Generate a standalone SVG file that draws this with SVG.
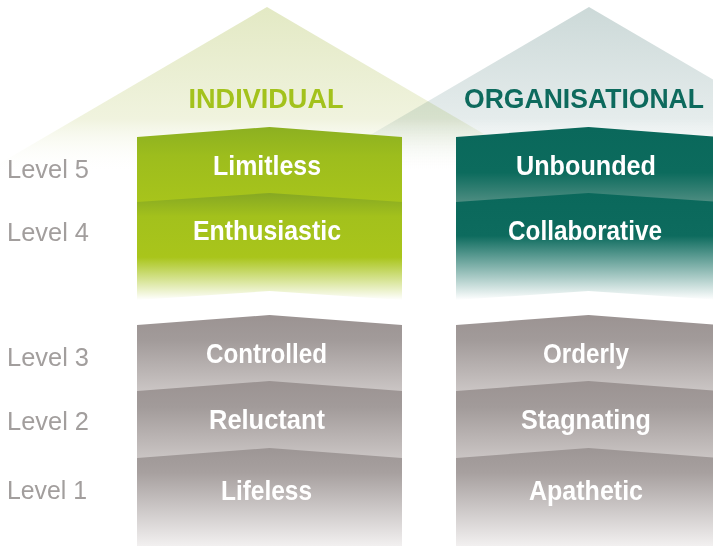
<svg xmlns="http://www.w3.org/2000/svg" width="713" height="549" viewBox="0 0 713 549">
<defs>
<linearGradient id="triG" x1="0" y1="0" x2="0" y2="1">
<stop offset="0" stop-color="#e3e9c4"/>
<stop offset="0.55" stop-color="#f0f3de"/>
<stop offset="0.82" stop-color="#ffffff" stop-opacity="0"/>
</linearGradient>
<linearGradient id="triT" x1="0" y1="0" x2="0" y2="1">
<stop offset="0" stop-color="#ccd9d8"/>
<stop offset="0.55" stop-color="#e5ecec"/>
<stop offset="0.82" stop-color="#ffffff" stop-opacity="0"/>
</linearGradient>
<linearGradient id="g5" x1="0" y1="0" x2="0" y2="1">
<stop offset="0" stop-color="#8cb021"/>
<stop offset="0.35" stop-color="#9dbd1d"/>
<stop offset="1" stop-color="#a9c51b"/>
</linearGradient>
<linearGradient id="g4" x1="0" y1="0" x2="0" y2="1">
<stop offset="0" stop-color="#86a823"/>
<stop offset="0.22" stop-color="#a3c11c"/>
<stop offset="0.6" stop-color="#a9c51b"/>
<stop offset="1" stop-color="#ffffff"/>
</linearGradient>
<linearGradient id="t5" x1="0" y1="0" x2="0" y2="1">
<stop offset="0" stop-color="#0a685b"/>
<stop offset="0.55" stop-color="#0c6b5d"/>
<stop offset="1" stop-color="#5f968b"/>
</linearGradient>
<linearGradient id="t4" x1="0" y1="0" x2="0" y2="1">
<stop offset="0" stop-color="#0a685b"/>
<stop offset="0.4" stop-color="#0d6b5e"/>
<stop offset="1" stop-color="#ffffff"/>
</linearGradient>
<linearGradient id="gr" x1="0" y1="0" x2="0" y2="1">
<stop offset="0" stop-color="#9b9392"/>
<stop offset="0.3" stop-color="#a29b9a"/>
<stop offset="1" stop-color="#d2cdcc"/>
</linearGradient>
<linearGradient id="gr1" x1="0" y1="0" x2="0" y2="1">
<stop offset="0" stop-color="#9d9695"/>
<stop offset="0.25" stop-color="#a7a09f"/>
<stop offset="1" stop-color="#f2f0f0"/>
</linearGradient>
</defs>
<style>
.box{font-family:"Liberation Sans Narrow","Liberation Sans",Arial,sans-serif;font-weight:bold;font-size:28px;fill:#ffffff;text-anchor:middle}
.lvl{font-family:"Liberation Sans Narrow","Liberation Sans",Arial,sans-serif;font-size:25px;fill:#a29e9d}
.hd{font-family:"Liberation Sans Narrow","Liberation Sans",Arial,sans-serif;font-weight:bold;font-size:28px;text-anchor:middle}
</style>
<rect width="713" height="549" fill="#ffffff"/>
<g id="backdrop">
<polygon points="267,7 -80,210 614,210" fill="url(#triG)"/>
<polygon points="589,7 242,210 936,210" fill="url(#triT)" style="mix-blend-mode:multiply"/>
</g>
<g id="header-individual"><text class="hd" x="266" y="108" fill="#a3c21c" textLength="155" lengthAdjust="spacingAndGlyphs">INDIVIDUAL</text></g>
<g id="header-organisational"><text class="hd" x="584" y="108" fill="#0d6a5d" font-size="27" textLength="240" lengthAdjust="spacingAndGlyphs">ORGANISATIONAL</text></g>
<g id="levels">
<text class="lvl" x="7" y="178" textLength="82" lengthAdjust="spacingAndGlyphs">Level 5</text>
<text class="lvl" x="7" y="241" textLength="82" lengthAdjust="spacingAndGlyphs">Level 4</text>
<text class="lvl" x="7" y="366" textLength="82" lengthAdjust="spacingAndGlyphs">Level 3</text>
<text class="lvl" x="7" y="430" textLength="82" lengthAdjust="spacingAndGlyphs">Level 2</text>
<text class="lvl" x="7" y="499" textLength="80" lengthAdjust="spacingAndGlyphs">Level 1</text>
</g>
<g id="limitless">
<path d="M137,137 L269.5,127 L402,137 L402,210 L137,210 Z" fill="url(#g5)"/>
<text class="box" x="267" y="175" textLength="108" lengthAdjust="spacingAndGlyphs">Limitless</text>
</g>
<g id="enthusiastic">
<path d="M137,202 L269.5,193 L402,202 L402,300 L269.5,291 L137,300 Z" fill="url(#g4)"/>
<text class="box" x="267" y="240" textLength="148" lengthAdjust="spacingAndGlyphs">Enthusiastic</text>
</g>
<g id="unbounded">
<path d="M456,137 L588.5,127 L721,137 L721,210 L456,210 Z" fill="url(#t5)"/>
<text class="box" x="586" y="175" textLength="140" lengthAdjust="spacingAndGlyphs">Unbounded</text>
</g>
<g id="collaborative">
<path d="M456,202 L588.5,193 L721,202 L721,300 L588.5,291 L456,300 Z" fill="url(#t4)"/>
<text class="box" x="585" y="240" textLength="154" lengthAdjust="spacingAndGlyphs">Collaborative</text>
</g>
<g id="controlled">
<path d="M137,325 L269.5,315 L402,325 L402,400 L137,400 Z" fill="url(#gr)"/>
<text class="box" x="266.5" y="363" textLength="121" lengthAdjust="spacingAndGlyphs">Controlled</text>
</g>
<g id="reluctant">
<path d="M137,391 L269.5,381 L402,391 L402,468 L137,468 Z" fill="url(#gr)"/>
<text class="box" x="267" y="429" textLength="116" lengthAdjust="spacingAndGlyphs">Reluctant</text>
</g>
<g id="lifeless">
<path d="M137,458 L269.5,448 L402,458 L402,546 L137,546 Z" fill="url(#gr1)"/>
<text class="box" x="266.5" y="500" textLength="91" lengthAdjust="spacingAndGlyphs">Lifeless</text>
</g>
<g id="orderly">
<path d="M456,325 L588.5,315 L721,325 L721,400 L456,400 Z" fill="url(#gr)"/>
<text class="box" x="586" y="363" textLength="86" lengthAdjust="spacingAndGlyphs">Orderly</text>
</g>
<g id="stagnating">
<path d="M456,391 L588.5,381 L721,391 L721,468 L456,468 Z" fill="url(#gr)"/>
<text class="box" x="586" y="429" textLength="130" lengthAdjust="spacingAndGlyphs">Stagnating</text>
</g>
<g id="apathetic">
<path d="M456,458 L588.5,448 L721,458 L721,546 L456,546 Z" fill="url(#gr1)"/>
<text class="box" x="586" y="500" textLength="114" lengthAdjust="spacingAndGlyphs">Apathetic</text>
</g>
</svg>
